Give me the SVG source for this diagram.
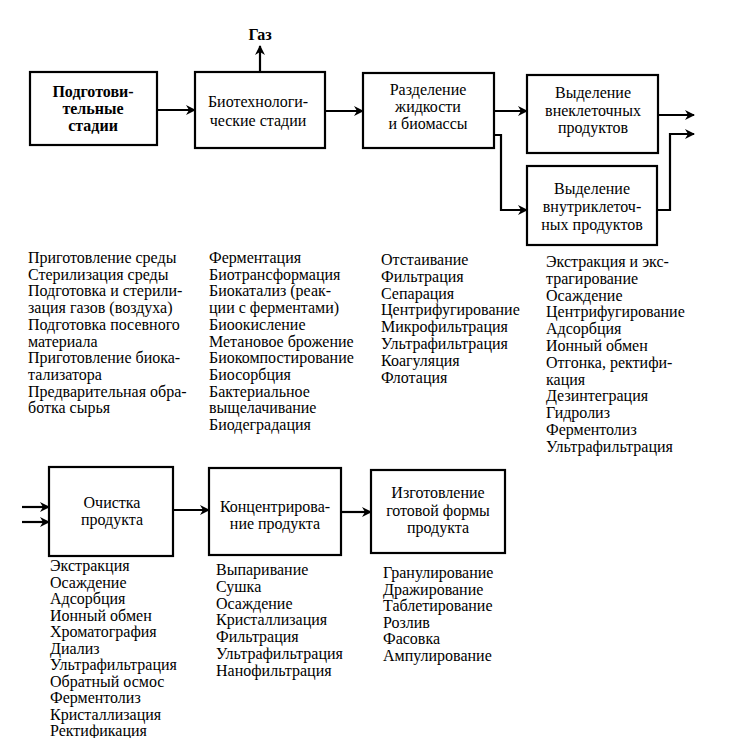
<svg xmlns="http://www.w3.org/2000/svg" width="731" height="738" viewBox="0 0 731 738">
<defs>
<marker id="ah" markerWidth="10" markerHeight="10" refX="9" refY="5" orient="auto" markerUnits="userSpaceOnUse">
<path d="M0,0 L10,5 L0,10 L3,5 Z" fill="#000"/>
</marker>
</defs>
<style>
.box{fill:#fff;stroke:#000;stroke-width:2.2}
.c{fill:none;stroke:#000;stroke-width:2.2}
.a{marker-end:url(#ah)}
text{font-family:"Liberation Serif","Times New Roman",serif;font-size:16px;fill:#000}
.m{text-anchor:middle}
.b{font-weight:bold}
</style>
<rect width="731" height="738" fill="#fff"/>
<g id="connectors">
<line class="c a" x1="260" y1="72" x2="260" y2="46"/>
<line class="c a" x1="157" y1="110" x2="195" y2="110"/>
<line class="c a" x1="325" y1="111" x2="363" y2="111"/>
<line class="c a" x1="494" y1="111" x2="527" y2="111"/>
<polyline class="c a" points="494,135 501,135 501,210 527,210"/>
<line class="c a" x1="658" y1="115" x2="694" y2="115"/>
<polyline class="c a" points="657,210 670,210 670,134 694,134"/>
<line class="c a" x1="22" y1="507" x2="49" y2="507"/>
<line class="c a" x1="22" y1="522" x2="49" y2="522"/>
<line class="c a" x1="173" y1="510" x2="209" y2="510"/>
<line class="c a" x1="341" y1="512" x2="371" y2="512"/>
</g>
<g id="gas"><text class="m b" x="260" y="40">Газ</text></g>
<g id="n1">
<rect class="box" x="30" y="72" width="127" height="73"/>
<text class="m b" x="93" y="97">Подготови-</text>
<text class="m b" x="93" y="114">тельные</text>
<text class="m b" x="93" y="131">стадии</text>
</g>
<g id="n2">
<rect class="box" x="195" y="72" width="130" height="76"/>
<text class="m" x="258" y="107">Биотехнологи-</text>
<text class="m" x="258" y="126">ческие стадии</text>
</g>
<g id="n3">
<rect class="box" x="363" y="73" width="131" height="75"/>
<text class="m" x="428" y="95">Разделение</text>
<text class="m" x="428" y="112">жидкости</text>
<text class="m" x="428" y="129">и биомассы</text>
</g>
<g id="n4">
<rect class="box" x="527" y="75" width="131" height="78"/>
<text class="m" x="593" y="98">Выделение</text>
<text class="m" x="593" y="115.5">внеклеточных</text>
<text class="m" x="593" y="133">продуктов</text>
</g>
<g id="n5">
<rect class="box" x="527" y="166" width="130" height="79"/>
<text class="m" x="592" y="194">Выделение</text>
<text class="m" x="592" y="212">внутриклеточ-</text>
<text class="m" x="592" y="230">ных продуктов</text>
</g>
<g id="n6">
<rect class="box" x="49" y="467" width="124" height="89"/>
<text class="m" x="112" y="508">Очистка</text>
<text class="m" x="112" y="525">продукта</text>
</g>
<g id="n7">
<rect class="box" x="209" y="468" width="132" height="87"/>
<text class="m" x="275" y="512">Концентрирова-</text>
<text class="m" x="275" y="529">ние продукта</text>
</g>
<g id="n8">
<rect class="box" x="371" y="470" width="134" height="83"/>
<text class="m" x="438" y="498">Изготовление</text>
<text class="m" x="438" y="515.5">готовой формы</text>
<text class="m" x="438" y="533">продукта</text>
</g>
<g id="list1">
<text x="28" y="263">Приготовление среды</text>
<text x="28" y="279.7">Стерилизация среды</text>
<text x="28" y="296.4">Подготовка и стерили-</text>
<text x="28" y="313.1">зация газов (воздуха)</text>
<text x="28" y="329.8">Подготовка посевного</text>
<text x="28" y="346.5">материала</text>
<text x="28" y="363.2">Приготовление биока-</text>
<text x="28" y="379.9">тализатора</text>
<text x="28" y="396.6">Предварительная обра-</text>
<text x="28" y="413.3">ботка сырья</text>
</g>
<g id="list2">
<text x="209" y="263">Ферментация</text>
<text x="209" y="279.7">Биотрансформация</text>
<text x="209" y="296.4">Биокатализ (реак-</text>
<text x="209" y="313.1">ции с ферментами)</text>
<text x="209" y="329.8">Биоокисление</text>
<text x="209" y="346.5">Метановое брожение</text>
<text x="209" y="363.2">Биокомпостирование</text>
<text x="209" y="379.9">Биосорбция</text>
<text x="209" y="396.6">Бактериальное</text>
<text x="209" y="413.3">выщелачивание</text>
<text x="209" y="430">Биодеградация</text>
</g>
<g id="list3">
<text x="381" y="265">Отстаивание</text>
<text x="381" y="281.8">Фильтрация</text>
<text x="381" y="298.6">Сепарация</text>
<text x="381" y="315.4">Центрифугирование</text>
<text x="381" y="332.2">Микрофильтрация</text>
<text x="381" y="349">Ультрафильтрация</text>
<text x="381" y="365.8">Коагуляция</text>
<text x="381" y="382.6">Флотация</text>
</g>
<g id="list4">
<text x="546" y="267">Экстракция и экс-</text>
<text x="546" y="283.8">трагирование</text>
<text x="546" y="300.6">Осаждение</text>
<text x="546" y="317.4">Центрифугирование</text>
<text x="546" y="334.2">Адсорбция</text>
<text x="546" y="351">Ионный обмен</text>
<text x="546" y="367.8">Отгонка, ректифи-</text>
<text x="546" y="384.6">кация</text>
<text x="546" y="401.4">Дезинтеграция</text>
<text x="546" y="418.2">Гидролиз</text>
<text x="546" y="435">Ферментолиз</text>
<text x="546" y="451.8">Ультрафильтрация</text>
</g>
<g id="list5">
<text x="50" y="571">Экстракция</text>
<text x="50" y="587.5">Осаждение</text>
<text x="50" y="604">Адсорбция</text>
<text x="50" y="620.5">Ионный обмен</text>
<text x="50" y="637">Хроматография</text>
<text x="50" y="653.5">Диализ</text>
<text x="50" y="670">Ультрафильтрация</text>
<text x="50" y="686.5">Обратный осмос</text>
<text x="50" y="703">Ферментолиз</text>
<text x="50" y="719.5">Кристаллизация</text>
<text x="50" y="736">Ректификация</text>
</g>
<g id="list6">
<text x="216" y="575">Выпаривание</text>
<text x="216" y="591.8">Сушка</text>
<text x="216" y="608.6">Осаждение</text>
<text x="216" y="625.4">Кристаллизация</text>
<text x="216" y="642.2">Фильтрация</text>
<text x="216" y="659">Ультрафильтрация</text>
<text x="216" y="675.8">Нанофильтрация</text>
</g>
<g id="list7">
<text x="383" y="578">Гранулирование</text>
<text x="383" y="594.6">Дражирование</text>
<text x="383" y="611.2">Таблетирование</text>
<text x="383" y="627.8">Розлив</text>
<text x="383" y="644.4">Фасовка</text>
<text x="383" y="661">Ампулирование</text>
</g>
</svg>
